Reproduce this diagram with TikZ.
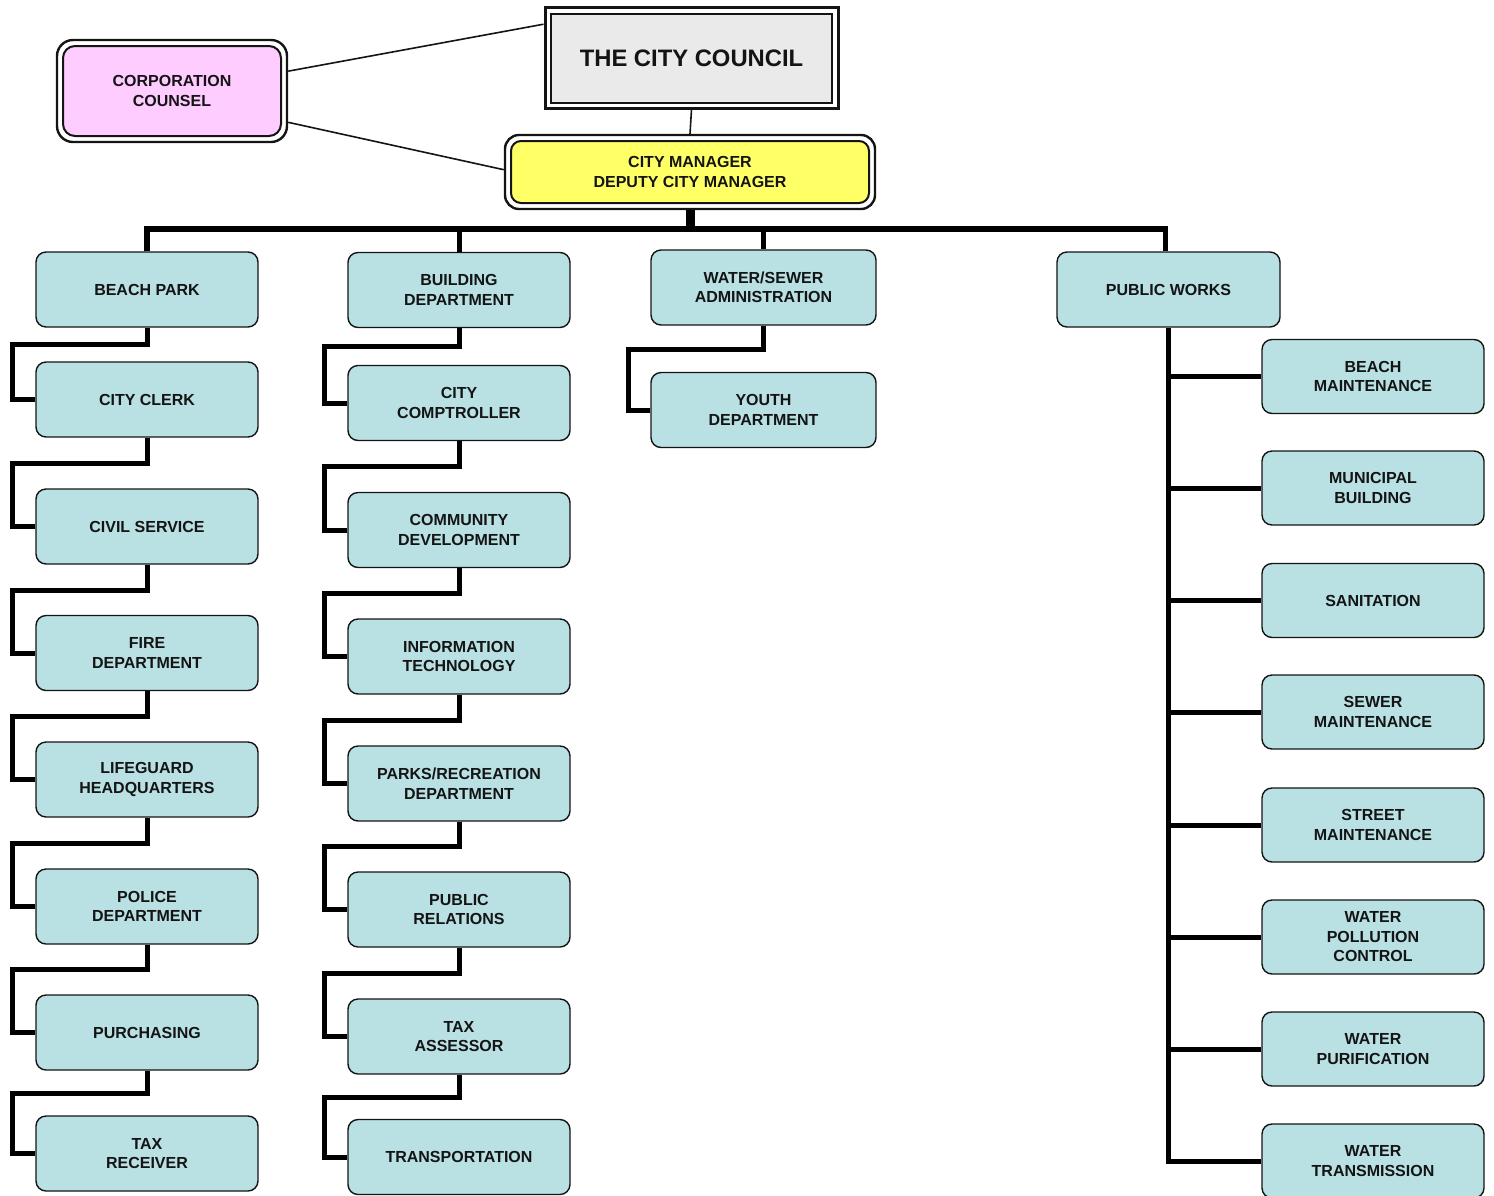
\documentclass[tikz,border=0pt]{standalone}
\usepackage{fontspec}
\setmainfont{Liberation Sans}
\usetikzlibrary{calc}
\definecolor{deptfill}{RGB}{185,224,227}
\definecolor{pinkfill}{RGB}{255,204,255}
\definecolor{yellowfill}{RGB}{255,255,102}
\definecolor{grayfill}{RGB}{234,234,234}
\definecolor{ink}{RGB}{20,20,20}
\begin{document}
\begin{tikzpicture}[x=1pt,y=-1pt,
  txt/.style={align=center, font=\fontsize{16}{19.5}\selectfont\bfseries, text=ink, inner sep=0pt},
  dept/.style={txt, draw=ink, line width=1.4pt, fill=deptfill, rounded corners=10pt,
               minimum width=222pt, minimum height=75pt},
  outerbox/.style={draw=ink, line width=2.4pt, fill=white, inner sep=0pt},
  conn/.style={line width=5pt, draw=black},
  thinline/.style={line width=1.6pt, draw=ink}]
\useasboundingbox (0,0) rectangle (1494,1195);

% ---------- top boxes ----------
\node[outerbox, line width=3pt, minimum width=293pt, minimum height=101pt] (councilOut) at (691.5,57.5) {};
\node[txt, draw=ink, line width=1.8pt, fill=grayfill, minimum width=281pt, minimum height=89pt,
      font=\fontsize{23.8}{28}\selectfont\bfseries] (council) at (691.5,58.5) {THE CITY COUNCIL};

\node[outerbox, rounded corners=16pt, minimum width=230pt, minimum height=102pt] (corpOut) at (172,91) {};
\node[txt, draw=ink, line width=2pt, fill=pinkfill, rounded corners=12pt, minimum width=218pt, minimum height=90pt] (corp) at (172,91) {CORPORATION\\COUNSEL};

\node[outerbox, rounded corners=14pt, minimum width=370pt, minimum height=74pt] (cmOut) at (690,172) {};
\node[txt, draw=ink, line width=2pt, fill=yellowfill, rounded corners=10pt, minimum width=358pt, minimum height=62pt] (cm) at (690,172) {CITY MANAGER\\DEPUTY CITY MANAGER};

\draw[thinline] ($(corpOut.north east)!0.31!(corpOut.south east)$) -- ($(councilOut.north west)!0.18!(councilOut.south west)$);
\draw[thinline] ($(corpOut.north east)!0.80!(corpOut.south east)$) -- ($(cmOut.north west)!0.47!(cmOut.south west)$);
\draw[thinline] (councilOut.south) -- (cmOut.north);

% ---------- column 1 ----------
\node[dept] (bp) at (147,289.5) {BEACH PARK};
\node[dept] (cclerk) at (147,399.5) {CITY CLERK};
\node[dept] (cs) at (147,526.5) {CIVIL SERVICE};
\node[dept] (fd) at (147,653) {FIRE\\DEPARTMENT};
\node[dept] (lg) at (147,779.5) {LIFEGUARD\\HEADQUARTERS};
\node[dept] (pd) at (147,906.5) {POLICE\\DEPARTMENT};
\node[dept] (pu) at (147,1032.5) {PURCHASING};
\node[dept] (tr) at (147,1153.5) {TAX\\RECEIVER};

% ---------- column 2 ----------
\node[dept] (bd) at (459,290) {BUILDING\\DEPARTMENT};
\node[dept] (comp) at (459,403) {CITY\\COMPTROLLER};
\node[dept] (cd) at (459,530) {COMMUNITY\\DEVELOPMENT};
\node[dept] (it) at (459,656.5) {INFORMATION\\TECHNOLOGY};
\node[dept] (prd) at (459,783.5) {PARKS/RECREATION\\DEPARTMENT};
\node[dept] (pr) at (459,909.5) {PUBLIC\\RELATIONS};
\node[dept] (ta) at (459,1036.5) {TAX\\ASSESSOR};
\node[dept] (trans) at (459,1157) {TRANSPORTATION};

% ---------- column 3 ----------
\node[dept, minimum width=225pt] (ws) at (763.5,287.5) {WATER/SEWER\\ADMINISTRATION};
\node[dept, minimum width=225pt] (yd) at (763.5,410) {YOUTH\\DEPARTMENT};

% ---------- column 4 ----------
\node[dept, minimum width=223pt] (pw) at (1168.5,289.5) {PUBLIC WORKS};
\node[dept, minimum height=74pt] (bm) at (1373,376.5) {BEACH\\MAINTENANCE};
\node[dept, minimum height=74pt] (mb) at (1373,488) {MUNICIPAL\\BUILDING};
\node[dept, minimum height=74pt] (san) at (1373,600.5) {SANITATION};
\node[dept, minimum height=74pt] (sm) at (1373,712) {SEWER\\MAINTENANCE};
\node[dept, minimum height=74pt] (stm) at (1373,825) {STREET\\MAINTENANCE};
\node[dept, minimum height=74pt] (wpc) at (1373,937) {WATER\\POLLUTION\\CONTROL};
\node[dept, minimum height=74pt] (wp) at (1373,1049) {WATER\\PURIFICATION};
\node[dept, minimum height=74pt] (wt) at (1373,1161) {WATER\\TRANSMISSION};

% ---------- main bus ----------
\coordinate (bus) at (690,229);
\draw[line width=9pt] (cmOut.south) -- (bus);
\draw[conn, line width=5.5pt] (bp.north) |- (bus) -| ([xshift=-3pt]pw.north);
\draw[conn] (bd.north) -- (bd.north |- bus);
\draw[conn] (ws.north) -- (ws.north |- bus);

% ---------- column 1 connectors ----------
\draw[conn] (bp.south) |- (12,344.5) |- (cclerk.west);
\draw[conn] (cclerk.south) |- (12,463) |- (cs.west);
\draw[conn] (cs.south) |- (12,590) |- (fd.west);
\draw[conn] (fd.south) |- (12,716) |- (lg.west);
\draw[conn] (lg.south) |- (12,843) |- (pd.west);
\draw[conn] (pd.south) |- (12,969.5) |- (pu.west);
\draw[conn] (pu.south) |- (12,1093) |- (tr.west);

% ---------- column 2 connectors ----------
\draw[conn] (bd.south) |- (324,346.5) |- (comp.west);
\draw[conn] (comp.south) |- (324,466.5) |- (cd.west);
\draw[conn] (cd.south) |- (324,593) |- (it.west);
\draw[conn] (it.south) |- (324,720) |- (prd.west);
\draw[conn] (prd.south) |- (324,846.5) |- (pr.west);
\draw[conn] (pr.south) |- (324,973) |- (ta.west);
\draw[conn] (ta.south) |- (324,1097) |- (trans.west);

% ---------- column 3 connector ----------
\draw[conn] (ws.south) |- (628,349) |- (yd.west);

% ---------- column 4 connectors ----------
\draw[conn] (pw.south) -- (pw.south |- wt.west) -- (wt.west);
\foreach \n in {bm,mb,san,sm,stm,wpc,wp}
  \draw[conn] (pw.south |- \n.west) -- (\n.west);
\end{tikzpicture}
\end{document}
